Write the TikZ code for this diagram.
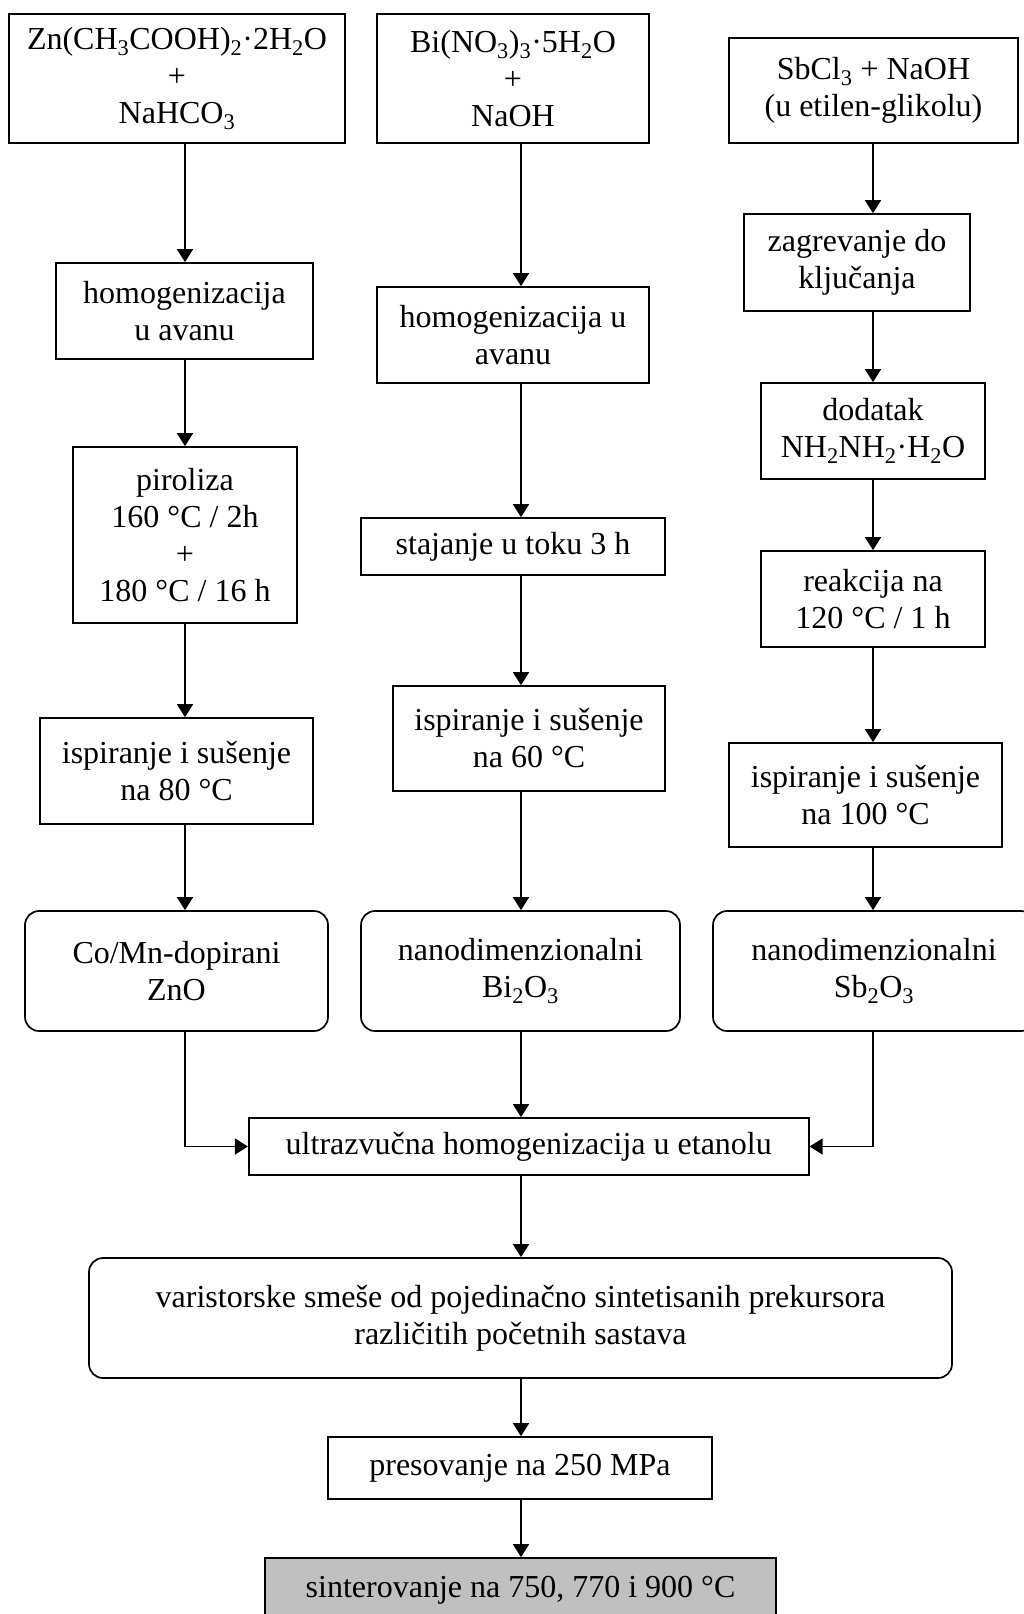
\documentclass[tikz,border=0pt]{standalone}
\usepackage{fontspec}
\setmainfont{Liberation Serif}
\usetikzlibrary{arrows.meta}
\newcommand{\sbs}[1]{\textsubscript{#1}}
\begin{document}
\begin{tikzpicture}[x=1pt,y=-1pt,
  box/.style={draw, line width=1.7pt, align=center, inner sep=0pt,
    font=\fontsize{32}{37}\selectfont},
  rbox/.style={box, rounded corners=14pt},
  arr/.style={-{Triangle[length=13pt,width=16pt]}, line width=1.7pt}]
\useasboundingbox (0,0) rectangle (1023,1614);
\coordinate (cA) at (185,0);
\coordinate (cB) at (521,0);
\coordinate (cC) at (873,0);
% column A
\node[box, minimum width=336pt, minimum height=129pt] (A1) at (177,78.5)
  {Zn(CH\sbs{3}COOH)\sbs{2}·2H\sbs{2}O\\+\\NaHCO\sbs{3}};
\node[box, minimum width=257pt, minimum height=96pt] (A2) at (184.5,311)
  {homogenizacija\\u avanu};
\node[box, minimum width=224pt, minimum height=176pt] (A3) at (185,535)
  {piroliza\\160 °C / 2h\\+\\180 °C / 16 h};
\node[box, minimum width=273pt, minimum height=106pt] (A4) at (176.5,771)
  {ispiranje i sušenje\\na 80 °C};
\node[rbox, minimum width=303pt, minimum height=120pt] (A5) at (176.5,971)
  {Co/Mn-dopirani\\ZnO};
% column B
\node[box, minimum width=272pt, minimum height=129pt] (B1) at (513,78.5)
  {Bi(NO\sbs{3})\sbs{3}·5H\sbs{2}O\\+\\NaOH};
\node[box, minimum width=272pt, minimum height=96pt] (B2) at (513,335)
  {homogenizacija u\\avanu};
\node[box, minimum width=304pt, minimum height=57pt] (B3) at (513,546.5)
  {stajanje u toku 3 h};
\node[box, minimum width=272pt, minimum height=105pt] (B4) at (529,738.5)
  {ispiranje i sušenje\\na 60 °C};
\node[rbox, minimum width=319pt, minimum height=120pt] (B5) at (520.5,971)
  {nanodimenzionalni\\Bi\sbs{2}O\sbs{3}};
% column C
\node[box, minimum width=289pt, minimum height=105pt] (C1) at (873.5,90.5)
  {SbCl\sbs{3} + NaOH\\(u etilen-glikolu)};
\node[box, minimum width=226pt, minimum height=97pt] (C2) at (857,262.5)
  {zagrevanje do\\ključanja};
\node[box, minimum width=224pt, minimum height=96pt] (C3) at (873,431)
  {dodatak\\NH\sbs{2}NH\sbs{2}·H\sbs{2}O};
\node[box, minimum width=224pt, minimum height=96pt] (C4) at (873,599)
  {reakcija na\\120 °C / 1 h};
\node[box, minimum width=273pt, minimum height=104pt] (C5) at (865.5,795)
  {ispiranje i sušenje\\na 100 °C};
\node[rbox, minimum width=322pt, minimum height=120pt] (C6) at (874,971)
  {nanodimenzionalni\\Sb\sbs{2}O\sbs{3}};
% bottom
\node[box, minimum width=560pt, minimum height=57pt] (U) at (528.75,1146.5)
  {ultrazvučna homogenizacija u etanolu};
\node[rbox, minimum width=863pt, minimum height=120pt] (V) at (520.5,1318)
  {varistorske smeše od pojedinačno sintetisanih prekursora\\različitih početnih sastava};
\node[box, minimum width=384pt, minimum height=62pt] (P) at (520,1468)
  {presovanje na 250 MPa};
\node[box, fill={rgb,255:red,192;green,192;blue,192}, minimum width=511pt, minimum height=64pt] (S) at (520.5,1590)
  {sinterovanje na 750, 770 i 900 °C};
% arrows
\draw[arr] (A1.south -| cA) -- (A2.north -| cA);
\draw[arr] (A2.south -| cA) -- (A3.north -| cA);
\draw[arr] (A3.south -| cA) -- (A4.north -| cA);
\draw[arr] (A4.south -| cA) -- (A5.north -| cA);
\draw[arr] (B1.south -| cB) -- (B2.north -| cB);
\draw[arr] (B2.south -| cB) -- (B3.north -| cB);
\draw[arr] (B3.south -| cB) -- (B4.north -| cB);
\draw[arr] (B4.south -| cB) -- (B5.north -| cB);
\draw[arr] (C1.south -| cC) -- (C2.north -| cC);
\draw[arr] (C2.south -| cC) -- (C3.north -| cC);
\draw[arr] (C3.south -| cC) -- (C4.north -| cC);
\draw[arr] (C4.south -| cC) -- (C5.north -| cC);
\draw[arr] (C5.south -| cC) -- (C6.north -| cC);
\draw[arr] (A5.south -| cA) |- (U.west);
\draw[arr] (B5.south -| cB) -- (U.north -| cB);
\draw[arr] (C6.south -| cC) |- (U.east);
\draw[arr] (U.south -| cB) -- (V.north -| cB);
\draw[arr] (V.south -| cB) -- (P.north -| cB);
\draw[arr] (P.south -| cB) -- (S.north -| cB);
\end{tikzpicture}
\end{document}
